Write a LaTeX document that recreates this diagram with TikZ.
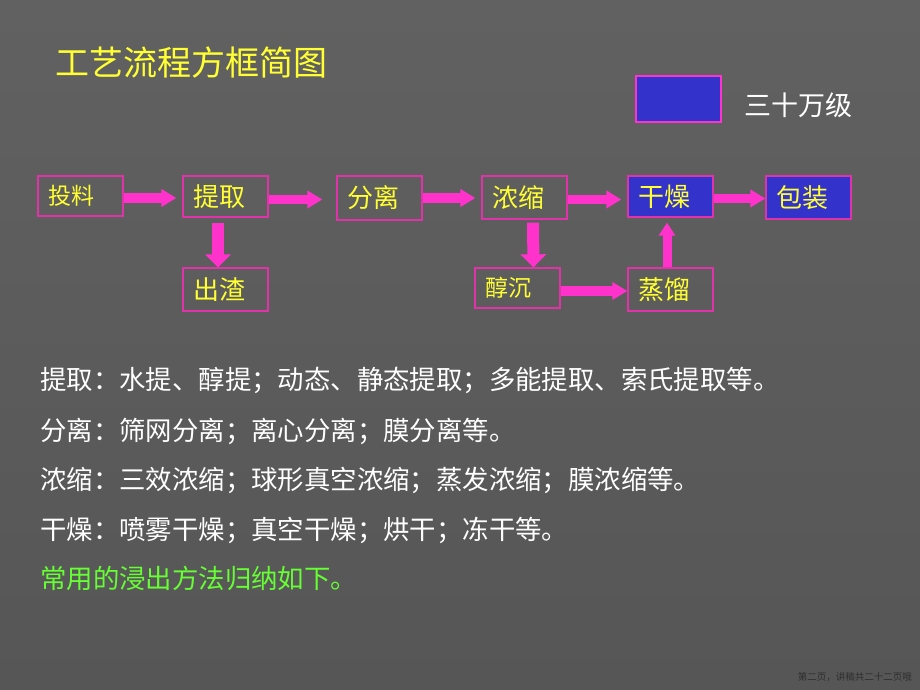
\documentclass[tikz,border=0pt]{standalone}
\usepackage{fontspec}
\setmainfont{Noto Sans CJK SC}
\usetikzlibrary{arrows.meta,calc}
\definecolor{bgtop}{HTML}{616161}
\definecolor{bgbot}{HTML}{565656}
\definecolor{mag}{HTML}{FF33CC}
\definecolor{boxline}{HTML}{E033AA}
\definecolor{bluefill}{HTML}{3333CC}
\definecolor{ytext}{HTML}{FFFF33}
\definecolor{gtext}{HTML}{66FF33}
\definecolor{foot}{HTML}{2E2E2E}
\tikzset{
  procbox/.style={draw=boxline, line width=1.3pt, rectangle, minimum width=85pt,
    text width=65pt, align=left, inner xsep=10pt, inner ysep=0pt,
    text=ytext, font=\fontsize{26}{28}\selectfont},
  smalltext/.style={font=\fontsize{23}{25}\selectfont},
  bluebox/.style={fill=bluefill},
  harrow/.style={draw=mag, line width=9.5pt,
    -{Triangle[length=15pt 0, width=17pt 0]}},
  varrow/.style={draw=mag, line width=12pt,
    -{Triangle[length=13pt 0, width=25pt 0]}},
  listtext/.style={anchor=west, inner sep=0pt, text=white,
    font=\fontsize{26.4}{28}\selectfont},
}
\begin{document}
\begin{tikzpicture}[x=1pt,y=-1pt]
\useasboundingbox (0,0) rectangle (920,690);
\shade[top color=bgtop, bottom color=bgbot] (0,0) rectangle (920,690);

% title
\node[anchor=west, inner sep=0pt, text=ytext, font=\fontsize{34}{36}\selectfont] (title) at (55,63) {工艺流程方框简图};

% legend
\node[draw=mag, line width=1.3pt, fill=bluefill, minimum width=85pt, minimum height=46pt, inner sep=0pt] (legend) at (678.5,99) {};
\node[anchor=west, inner sep=0pt, text=white, font=\fontsize{27}{29}\selectfont] (legendtext) at (744,105) {三十万级};

% process boxes
\node[procbox, smalltext, minimum height=40pt] (tl) at (80.5,196) {投料};
\node[procbox, minimum height=41pt] (tq) at (225.5,196.5) {提取};
\node[procbox, minimum height=44pt] (fl) at (379.5,198) {分离};
\node[procbox, minimum height=43pt] (ns) at (524.5,197.5) {浓缩};
\node[procbox, bluebox, minimum height=41pt] (gz) at (670.5,196.5) {干燥};
\node[procbox, bluebox, minimum height=43pt] (bz) at (808.5,197.5) {包装};
\node[procbox, minimum height=43pt] (cz) at (225.5,289.5) {出渣};
\node[procbox, smalltext, minimum height=40pt] (cc) at (517.5,288) {醇沉};
\node[procbox, minimum height=43pt] (zl) at (670.5,289.5) {蒸馏};

% connectors
\draw[harrow] ([yshift=-2pt]tl.east) -- ([xshift=-6pt,yshift=-2pt]tq.west |- tl.east);
\draw[harrow] ([yshift=-3pt]tq.east) -- ([xshift=-14pt,yshift=-3pt]fl.west |- tq.east);
\draw[harrow] (fl.east) -- ([xshift=-6pt]ns.west |- fl.east);
\draw[harrow] ([yshift=-2pt]ns.east) -- ([xshift=-6pt,yshift=-2pt]gz.west |- ns.east);
\draw[harrow] ([yshift=-2pt]gz.east) -- ([yshift=-2pt]bz.west |- gz.east);
\draw[harrow] ([yshift=-3pt]cc.east) -- ([yshift=-3pt]zl.west |- cc.east);
\draw[varrow] ([yshift=-5pt,xshift=-7.5pt]tq.south) -- ([xshift=-7.5pt]cz.north);
\draw[varrow] ([yshift=-3pt,xshift=8.5pt]ns.south) -- ([xshift=16pt]cc.north);
\draw[harrow, line width=9pt, -{Triangle[length=13pt 0, width=16pt 0]}] ([xshift=-3.5pt]zl.north) -- ([xshift=-3.5pt,yshift=-5pt]gz.south);

% description lines
\node[listtext] (l1) at (40,380) {提取：水提、醇提；动态、静态提取；多能提取、索氏提取等。};
\node[listtext] (l2) at (40,431) {分离：筛网分离；离心分离；膜分离等。};
\node[listtext] (l3) at (40,480) {浓缩：三效浓缩；球形真空浓缩；蒸发浓缩；膜浓缩等。};
\node[listtext] (l4) at (40,530) {干燥：喷雾干燥；真空干燥；烘干；冻干等。};
\node[listtext, text=gtext] (l5) at (40,578) {常用的浸出方法归纳如下。};

% footer
\node[anchor=east, inner sep=0pt, text=foot, font=\fontsize{9.5}{10}\selectfont] (footer) at (912,677) {第二页，讲稿共二十二页哦};
\end{tikzpicture}
\end{document}
